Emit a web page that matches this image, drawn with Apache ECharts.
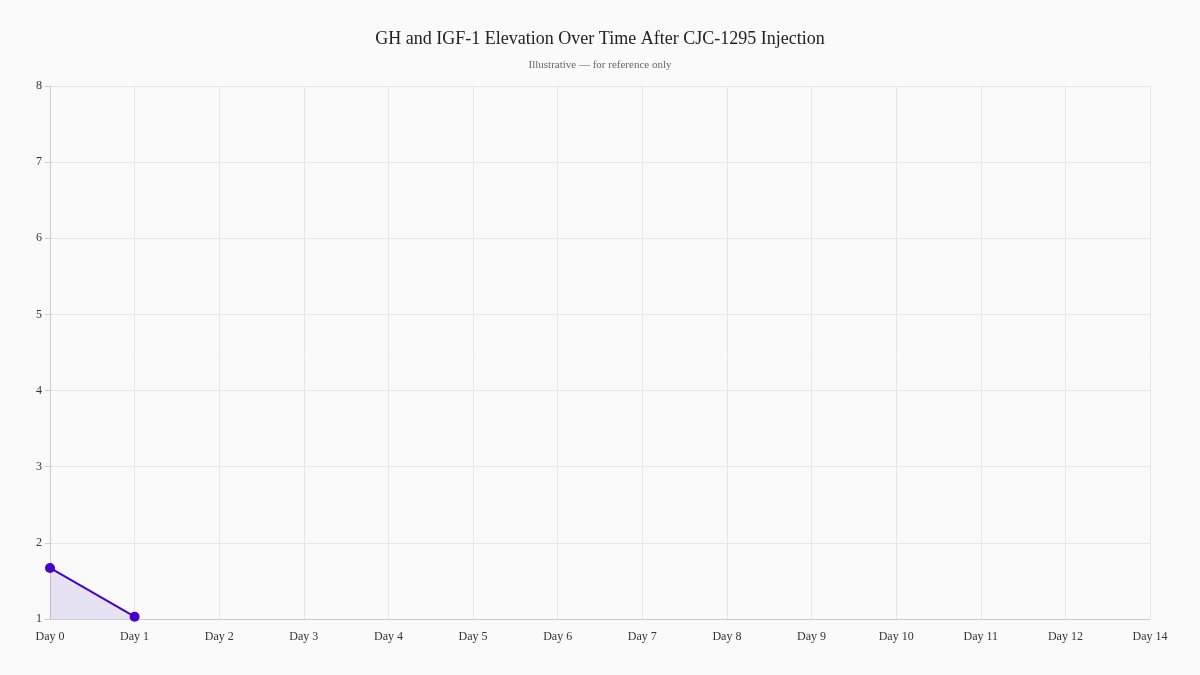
<!DOCTYPE html>
<html><head><meta charset="utf-8">
<script src="https://cdn.jsdelivr.net/npm/echarts@6/dist/echarts.min.js"></script>
<style>html,body{margin:0;padding:0;background:#fafafa;}#c{width:1200px;height:675px;}</style>
</head><body><div id="c"></div>
<script>
const categories = ["Day 0","Day 1","Day 2","Day 3","Day 4","Day 5","Day 6","Day 7","Day 8","Day 9","Day 10","Day 11","Day 12","Day 14"];
const values = [1.67, 1.03];
const chart = echarts.init(document.getElementById('c'));
const font = '"Liberation Serif", "Times New Roman", serif';
chart.setOption({
  backgroundColor: '#fafafa',
  textStyle: {fontFamily: font},
  title: {
    text: 'GH and IGF-1 Elevation Over Time After CJC-1295 Injection',
    subtext: 'Illustrative — for reference only',
    left: 'center', top: 25,
    textStyle: {fontFamily: font, fontSize: 18, fontWeight: 'normal', color: '#222'},
    subtextStyle: {fontFamily: font, fontSize: 11, color: '#666'},
    itemGap: 12
  },
  grid: {left: 50, right: 50, top: 86, bottom: 56},
  xAxis: {
    type: 'category', data: categories, boundaryGap: false,
    axisLine: {lineStyle: {color: '#ccc'}},
    axisTick: {show: false},
    axisLabel: {color: '#333', fontSize: 12, fontFamily: font, margin: 12, interval: 0},
    splitLine: {show: true, lineStyle: {color: '#e6e6e6'}}
  },
  yAxis: {
    type: 'value', min: 1, max: 8, interval: 1,
    axisLine: {show: true, lineStyle: {color: '#ccc'}},
    axisTick: {show: true, length: 5, lineStyle: {color: '#ccc'}},
    axisLabel: {color: '#333', fontSize: 12, fontFamily: font, margin: 8},
    splitLine: {show: true, lineStyle: {color: '#e6e6e6'}}
  },
  series: [{
    type: 'line', data: values,
    symbol: 'circle', symbolSize: 10,
    itemStyle: {color: '#4400cc'},
    lineStyle: {color: '#4400cc', width: 2},
    areaStyle: {color: 'rgba(120, 80, 210, 0.2)'}
  }]
});
</script></body></html>
